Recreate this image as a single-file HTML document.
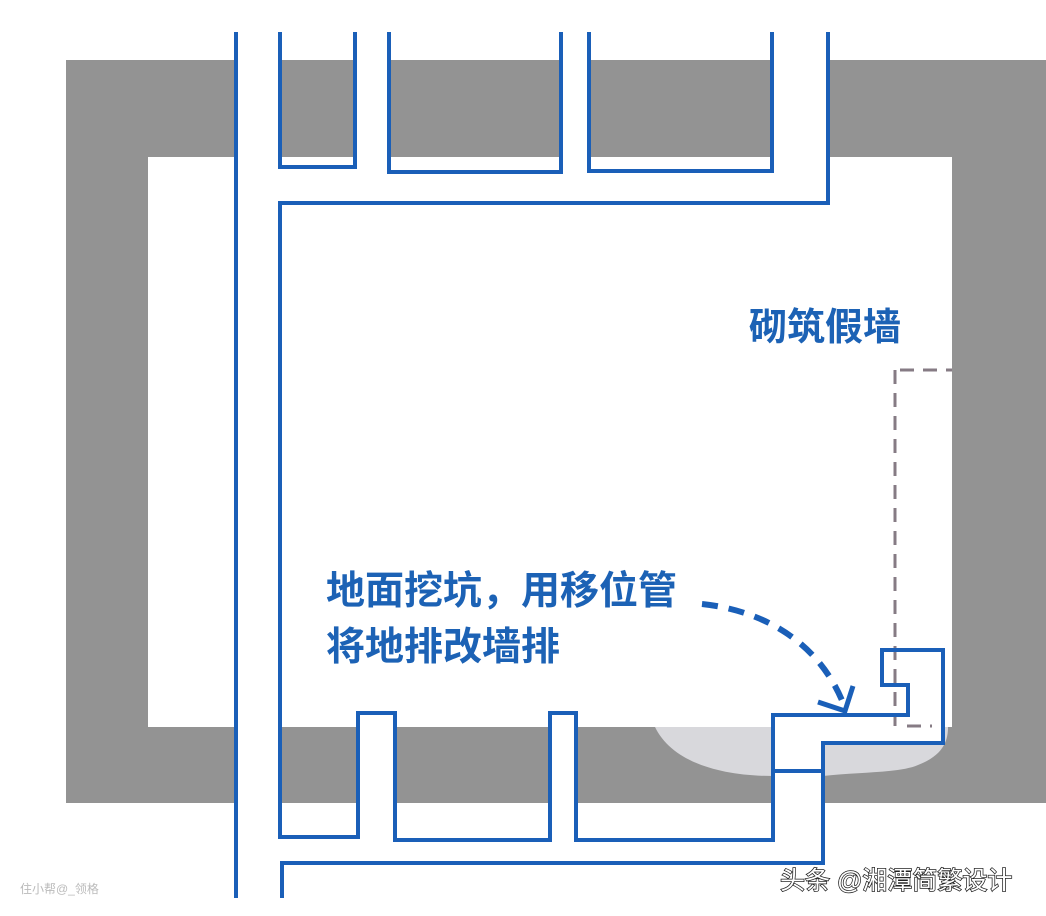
<!DOCTYPE html>
<html><head><meta charset="utf-8"><style>
html,body{margin:0;padding:0;background:#fff;}
svg{display:block}
.t{font-family:"Liberation Sans","Noto Sans CJK SC",sans-serif;font-weight:bold;fill:#1c62b5;}
</style></head><body>
<svg width="1046" height="916" viewBox="0 0 1046 916" xmlns="http://www.w3.org/2000/svg">
<rect width="1046" height="916" fill="#fff"/>
<g fill="#939393">
<rect x="66" y="60" width="980" height="97"/>
<rect x="66" y="60" width="82" height="743"/>
<rect x="952" y="60" width="94" height="743"/>
<rect x="66" y="727" width="886" height="76"/>
</g>
<g fill="#fff">
<rect x="238" y="55" width="42" height="110"/>
<rect x="355" y="55" width="34" height="110"/>
<rect x="561" y="55" width="28" height="110"/>
<rect x="772" y="55" width="56" height="110"/>
<rect x="238" y="720" width="42" height="90"/>
<rect x="358" y="713" width="37" height="95"/>
<rect x="550" y="713" width="26" height="95"/>
</g>
<path d="M655,727 C672,762 720,777 780,776 L823,776 C860,772 900,773 918,765 C944,755 948,740 948,727 Z" fill="#d8d8dc"/>
<rect x="775" y="715" width="48" height="88" fill="#fff"/>
<rect x="775" y="715" width="168" height="28" fill="#fff"/>
<g stroke="#867b84" stroke-width="3" fill="none" stroke-dasharray="14,9">
<path d="M895,370 L895,726"/>
<path d="M900,370 L952,370"/>
<path d="M907,726 L932,726"/>
</g>
<g stroke="#1a5fb8" stroke-width="4" fill="none" stroke-linejoin="miter">
<path d="M236,32 L236,898"/>
<path d="M280,32 L280,167 L355,167 L355,32"/>
<path d="M389,32 L389,172 L561,172 L561,32"/>
<path d="M589,32 L589,171 L772,171 L772,32"/>
<path d="M828,32 L828,203 L280,203 L280,837 L358,837 L358,713 L395,713 L395,840 L550,840 L550,713 L576,713 L576,840 L773,840 L773,715 L908,715 L908,685 L882,685 L882,650 L943,650 L943,743 L823,743 L823,863 L282,863 L282,898"/>
<path d="M773,771 L823,771"/>
</g>
<path d="M702,604 C760,610 820,640 845,708" stroke="#1a5fb8" stroke-width="6" fill="none" stroke-dasharray="16,11"/>
<path d="M818,702 L845,711 L853,686" stroke="#1a5fb8" stroke-width="5" fill="none"/>
<text class="t" x="749" y="340" font-size="38">砌筑假墙</text>
<text class="t" x="326" y="604" font-size="39">地面挖坑，用移位管</text>
<text class="t" x="326" y="660" font-size="39">将地排改墙排</text>
<text x="780" y="889" font-family="'Liberation Sans','Noto Sans CJK SC',sans-serif" font-size="25" fill="#fff" stroke="#222" stroke-width="1.5" paint-order="stroke">头条 @湘潭简繁设计</text>
<text x="20" y="893" font-family="'Liberation Sans','Noto Sans CJK SC',sans-serif" font-size="12" fill="#bbb">住小帮@_领格</text>
</svg>
</body></html>
